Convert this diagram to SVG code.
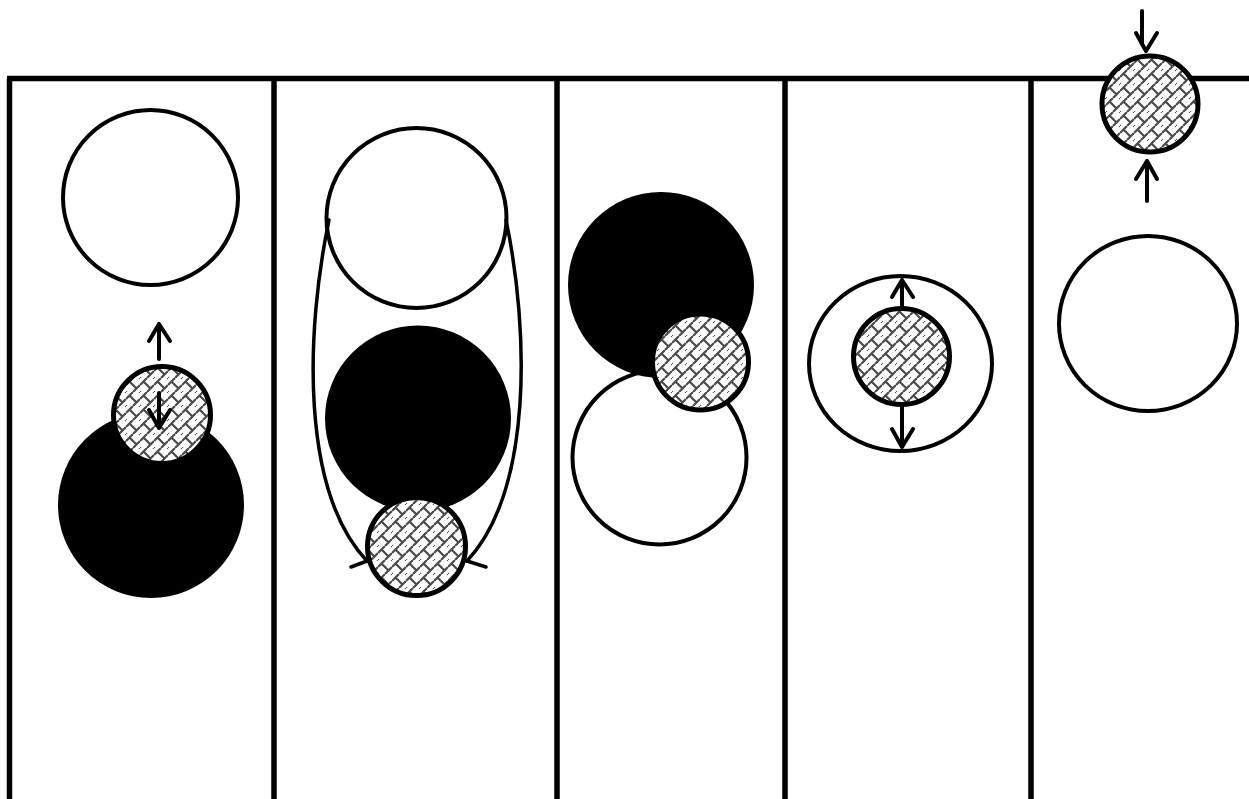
<svg xmlns="http://www.w3.org/2000/svg" width="1249" height="799" viewBox="0 0 1249 799">
<style>
.frame{stroke:#000;stroke-width:5.5;fill:none}
.wc{fill:#fff;stroke:#000;stroke-width:4}
.bc{fill:#000;stroke:none}
.hc{fill:url(#weave);stroke:#000;stroke-width:5}
.arr{fill:none;stroke:#000;stroke-width:4;stroke-linecap:round;stroke-linejoin:round}
.cur{fill:none;stroke:#000;stroke-width:3.5;stroke-linecap:round}
</style>
<defs>
<pattern id="weave" patternUnits="userSpaceOnUse" width="14" height="14">
<rect width="14" height="14" fill="#fff"/>
<path d="M0,7 L7,0 M7,14 L14,7 M3.5,3.5 L10.5,10.5 M10.5,-3.5 L17.5,3.5 M-3.5,10.5 L3.5,17.5" stroke="#4a4a4a" stroke-width="2.2" fill="none"/>
</pattern>
</defs>
<rect width="1249" height="799" fill="#fff"/>
<g id="frame">
<path class="frame" d="M7,78.5 H1249 M9.5,78 V799 M274,78 V799 M557,78 V799 M785,78 V799 M1031,78 V799"/>
</g>
<g id="col1">
<circle class="wc" cx="150.5" cy="197.5" r="87.5"/>
<circle class="bc" cx="151" cy="505" r="93"/>
<circle class="hc" cx="162" cy="415" r="48.5"/>
</g>
<g id="col2">
<circle class="wc" cx="416.5" cy="218" r="90"/>
<circle class="bc" cx="418" cy="418.5" r="93"/>
<circle class="hc" cx="416.5" cy="546.5" r="49"/>
</g>
<g id="col3">
<circle class="wc" cx="659.5" cy="457.5" r="87"/>
<circle class="bc" cx="661" cy="285" r="93"/>
<circle class="hc" cx="700.5" cy="362" r="48"/>
</g>
<g id="col4">
<ellipse class="wc" cx="900.5" cy="363.5" rx="91.5" ry="87.5"/>
<circle class="hc" cx="901.5" cy="356.5" r="48"/>
</g>
<g id="col5">
<circle class="hc" cx="1150" cy="104" r="48"/>
<ellipse class="wc" cx="1148" cy="323.5" rx="89" ry="87.5"/>
</g>
<g id="connectors">
<path class="arr" d="M159,359 V324 M149,341 L159,324 L170,341"/>
<path class="arr" d="M159,393 V428 M149,410 L159,428 L170,410"/>
<path class="cur" d="M329,220 C 306,330 300,490 367,561"/>
<path class="cur" d="M351,567 L367,561"/>
<path class="cur" d="M506,220 C 529,330 533,490 467,561"/>
<path class="cur" d="M486,567 L467,561"/>
<path class="arr" d="M902,307 V280 M892,297 L902,280 L913,297"/>
<path class="arr" d="M902,406 V447 M892,429 L902,447 L913,429"/>
<path class="arr" d="M1142,11 V44 L1146,51 M1136,33 L1146,51 L1157,33"/>
<path class="arr" d="M1147,201 V161 M1136,179 L1147,161 L1157,179"/>
</g>
</svg>
